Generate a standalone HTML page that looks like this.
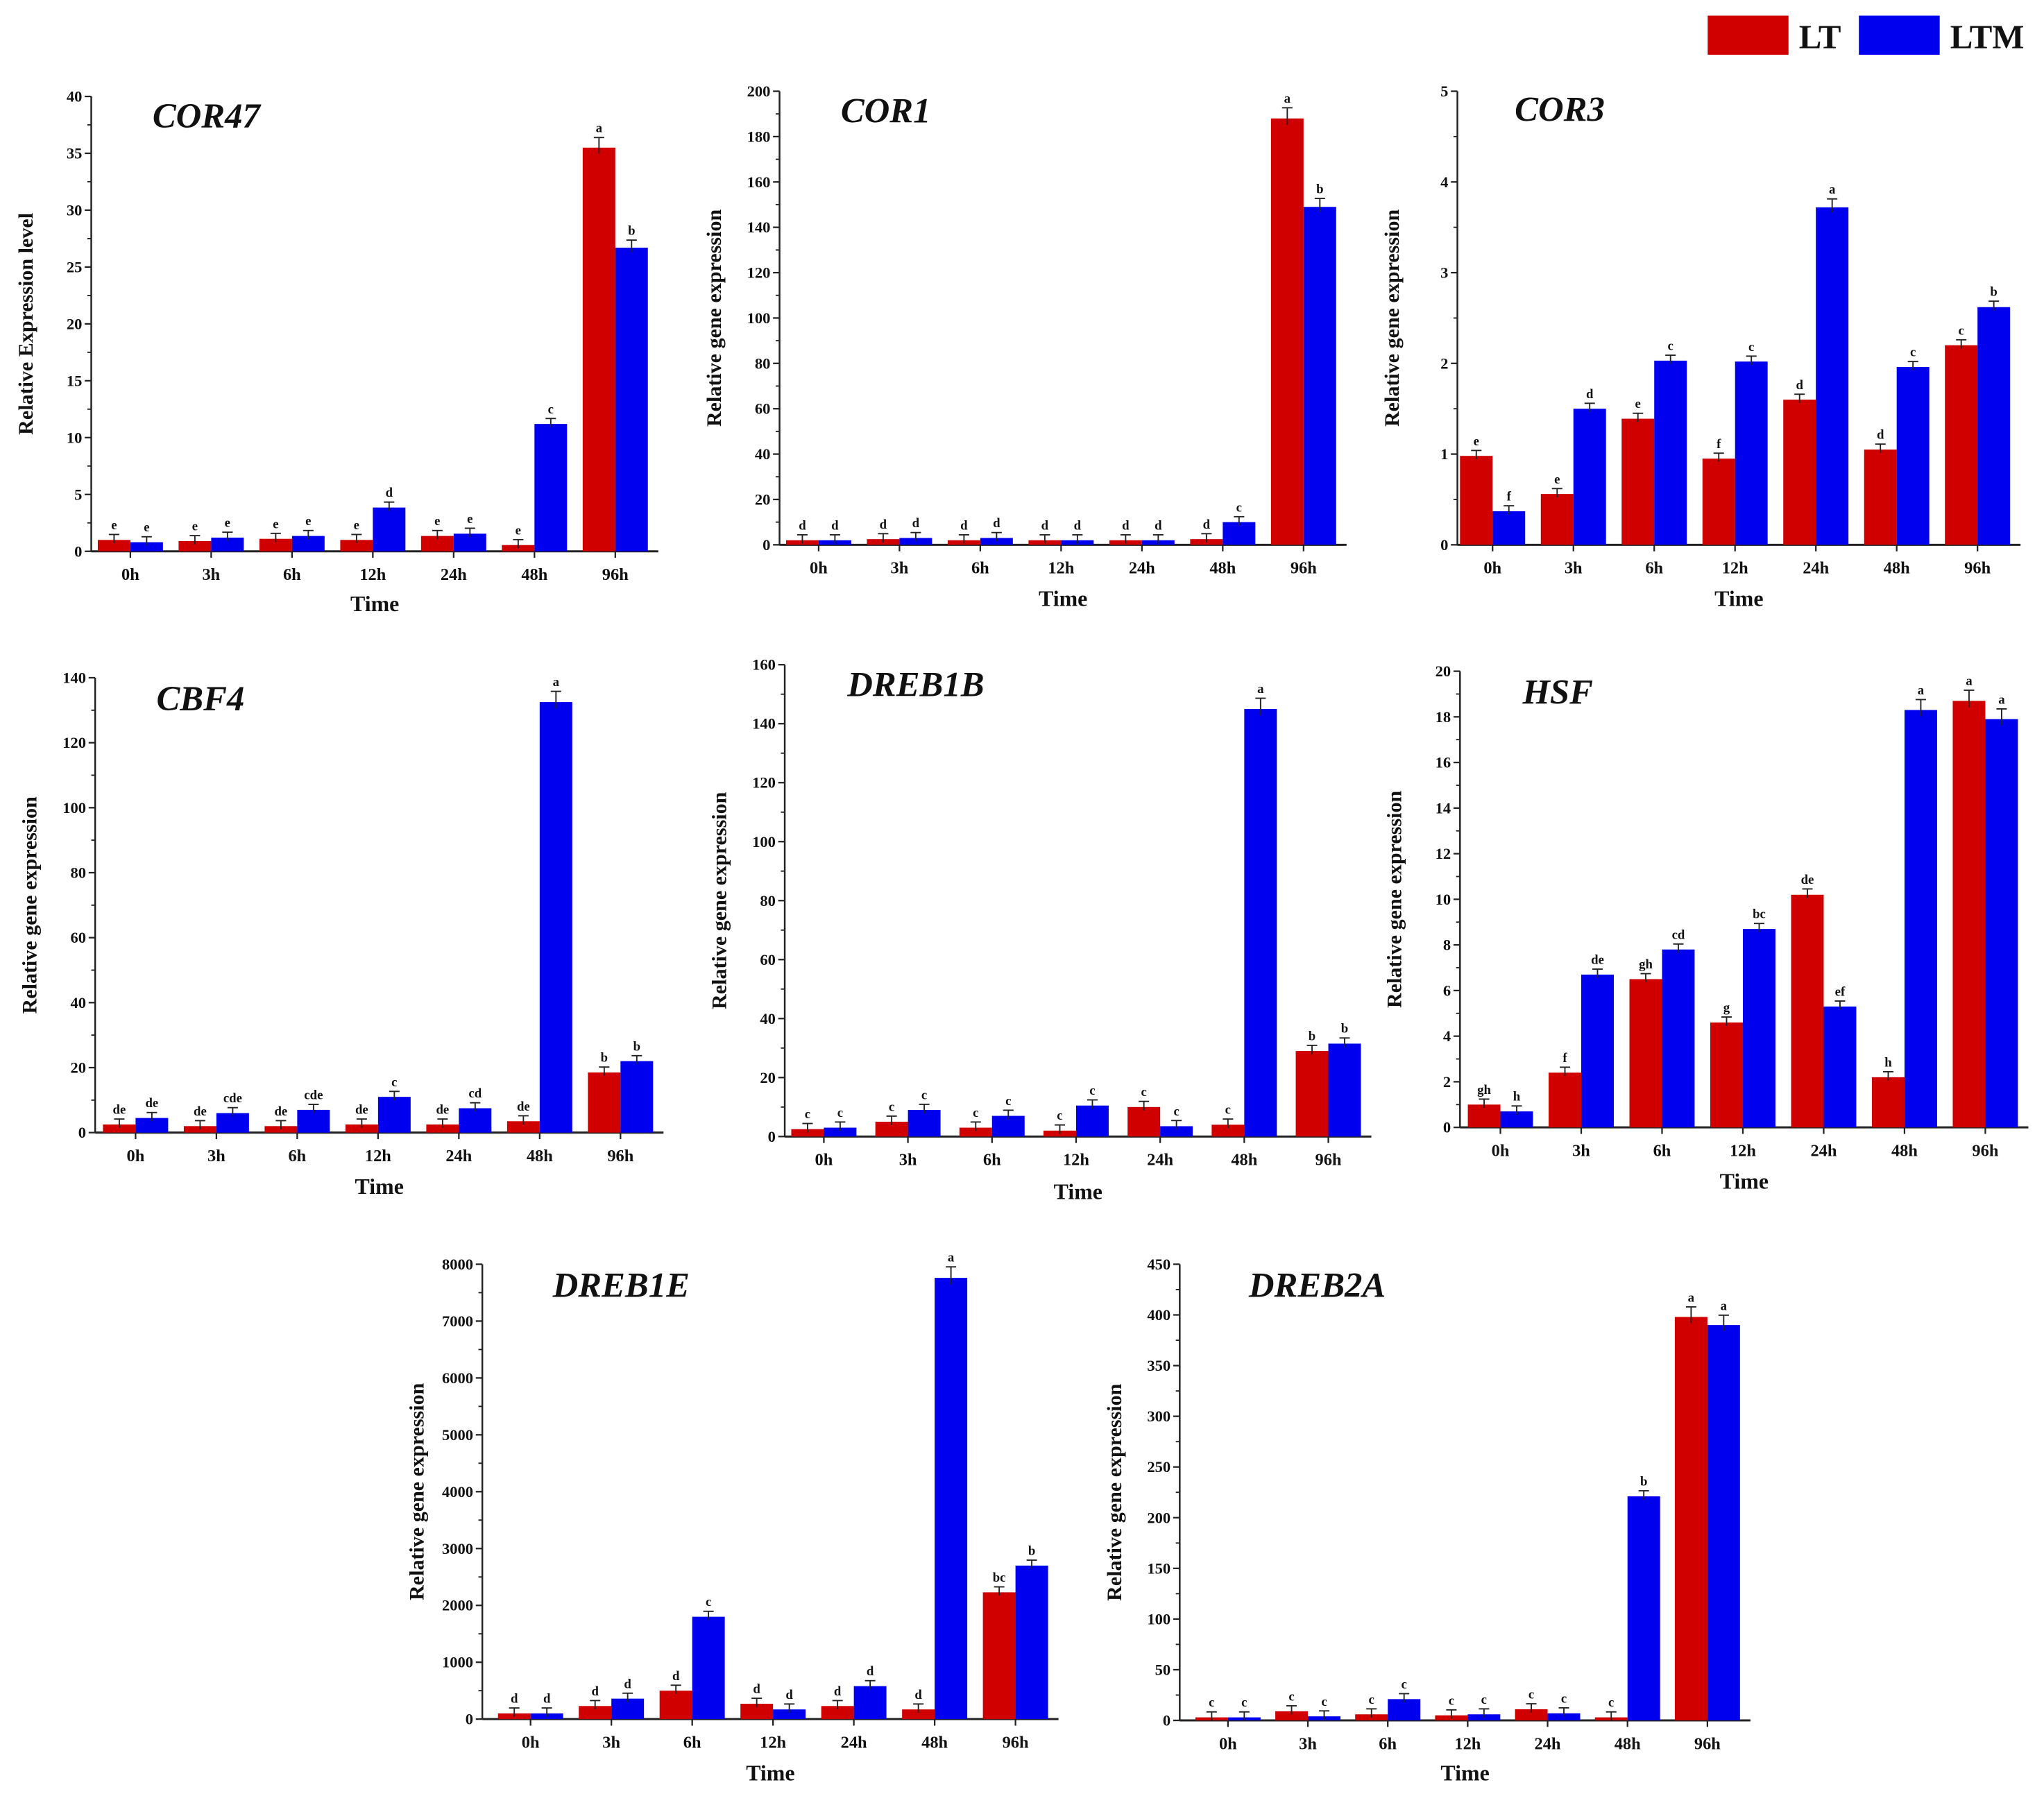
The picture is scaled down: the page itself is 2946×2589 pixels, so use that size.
<!DOCTYPE html>
<html><head><meta charset="utf-8"><style>
html,body{margin:0;padding:0;background:#fff;}
svg{display:block;}
text{font-family:"Liberation Serif",serif;font-weight:bold;fill:#111;}
</style></head><body>
<svg id="fig" width="2946" height="2589" viewBox="0 0 1568 1378" xmlns="http://www.w3.org/2000/svg">
<g>
<rect x="1310" y="12" width="62" height="30" fill="#d00000"/>
<text x="1380" y="37" font-size="26">LT</text>
<rect x="1426" y="12" width="62" height="30" fill="#0000ee"/>
<text x="1496" y="37" font-size="26">LTM</text>
</g>
</svg>
<script>
const categories = ["0h","3h","6h","12h","24h","48h","96h"];
const cor47LT = [1.0,0.9,1.1,1.0,1.35,0.55,35.5];
const cor47LTM = [0.8,1.2,1.35,3.85,1.55,11.2,26.7];
const cor47LetLT = ["e","e","e","e","e","e","a"];
const cor47LetLTM = ["e","e","e","d","e","c","b"];
const cor1LT = [2,2.5,2,2,2,2.5,188];
const cor1LTM = [2,3,3,2,2,10,149];
const cor1LetLT = ["d","d","d","d","d","d","a"];
const cor1LetLTM = ["d","d","d","d","d","c","b"];
const cor3LT = [0.98,0.56,1.39,0.95,1.6,1.05,2.2];
const cor3LTM = [0.37,1.5,2.03,2.02,3.72,1.96,2.62];
const cor3LetLT = ["e","e","e","f","d","d","c"];
const cor3LetLTM = ["f","d","c","c","a","c","b"];
const cbf4LT = [2.5,2,2,2.5,2.5,3.5,18.5];
const cbf4LTM = [4.5,6,7,11,7.5,132.5,22];
const cbf4LetLT = ["de","de","de","de","de","de","b"];
const cbf4LetLTM = ["de","cde","cde","c","cd","a","b"];
const dreb1bLT = [2.5,5,3,2,10,4,29];
const dreb1bLTM = [3,9,7,10.5,3.5,145,31.5];
const dreb1bLetLT = ["c","c","c","c","c","c","b"];
const dreb1bLetLTM = ["c","c","c","c","c","a","b"];
const hsfLT = [1.0,2.4,6.5,4.6,10.2,2.2,18.7];
const hsfLTM = [0.7,6.7,7.8,8.7,5.3,18.3,17.9];
const hsfLetLT = ["gh","f","gh","g","de","h","a"];
const hsfLetLTM = ["h","de","cd","bc","ef","a","a"];
const dreb1eLT = [100,230,500,270,230,170,2230];
const dreb1eLTM = [100,360,1800,170,580,7760,2700];
const dreb1eLetLT = ["d","d","d","d","d","d","bc"];
const dreb1eLetLTM = ["d","d","c","d","d","a","b"];
const dreb2aLT = [3,9,6,5,11,3,398];
const dreb2aLTM = [3,4,21,6,7,221,390];
const dreb2aLetLT = ["c","c","c","c","c","c","a"];
const dreb2aLetLTM = ["c","c","c","c","c","b","a"];

const panels = [
 {id:"cor47",title:"COR47",ylab:"Relative Expression level",ax:70,top:74,bot:423,c0:100,sp:62,max:40,step:5,lt:cor47LT,ltm:cor47LTM,llt:cor47LetLT,lltm:cor47LetLTM,tx:117,ty:98,timeY:469},
 {id:"cor1",title:"COR1",ylab:"Relative gene expression",ax:598,top:70,bot:418,c0:628,sp:62,max:200,step:20,lt:cor1LT,ltm:cor1LTM,llt:cor1LetLT,lltm:cor1LetLTM,tx:645,ty:94,timeY:465},
 {id:"cor3",title:"COR3",ylab:"Relative gene expression",ax:1118,top:70,bot:418,c0:1145,sp:62,max:5,step:1,lt:cor3LT,ltm:cor3LTM,llt:cor3LetLT,lltm:cor3LetLTM,tx:1162,ty:93,timeY:465},
 {id:"cbf4",title:"CBF4",ylab:"Relative gene expression",ax:73,top:520,bot:869,c0:104,sp:62,max:140,step:20,lt:cbf4LT,ltm:cbf4LTM,llt:cbf4LetLT,lltm:cbf4LetLTM,tx:120,ty:545,timeY:916},
 {id:"dreb1b",title:"DREB1B",ylab:"Relative gene expression",ax:602,top:510,bot:872,c0:632,sp:64.5,max:160,step:20,lt:dreb1bLT,ltm:dreb1bLTM,llt:dreb1bLetLT,lltm:dreb1bLetLTM,tx:650,ty:534,timeY:920},
 {id:"hsf",title:"HSF",ylab:"Relative gene expression",ax:1120,top:515,bot:865,c0:1151,sp:62,max:20,step:2,lt:hsfLT,ltm:hsfLTM,llt:hsfLetLT,lltm:hsfLetLTM,tx:1168,ty:540,timeY:912},
 {id:"dreb1e",title:"DREB1E",ylab:"Relative gene expression",ax:370,top:970,bot:1319,c0:407,sp:62,max:8000,step:1000,lt:dreb1eLT,ltm:dreb1eLTM,llt:dreb1eLetLT,lltm:dreb1eLetLTM,tx:424,ty:995,timeY:1366},
 {id:"dreb2a",title:"DREB2A",ylab:"Relative gene expression",ax:905,top:970,bot:1320,c0:942,sp:61.3,max:450,step:50,lt:dreb2aLT,ltm:dreb2aLTM,llt:dreb2aLetLT,lltm:dreb2aLetLTM,tx:958,ty:995,timeY:1366}
];
const NS="http://www.w3.org/2000/svg";
const svg=document.getElementById("fig");
function mk(tag,attrs,parent){const e=document.createElementNS(NS,tag);for(const k in attrs)e.setAttribute(k,attrs[k]);parent.appendChild(e);return e;}
panels.forEach(p=>{
 const g=mk("g",{},svg);
 
 
 const y=v=>p.bot-(v/p.max)*(p.bot-p.top);
 const xc=i=>p.c0+i*p.sp;
 const bw=25;
 const xEnd=xc(6)+bw+8;
 const ya=mk("line",{x1:p.ax,y1:p.top,x2:p.ax,y2:p.bot,stroke:"#222","stroke-width":1.3},g);
 
 
 const xa=mk("line",{x1:p.ax,y1:p.bot,x2:xEnd,y2:p.bot,stroke:"#222","stroke-width":1.6},g);
 
 
 for(let v=0;v<=p.max+1e-9;v+=p.step){
  mk("line",{x1:p.ax-5,y1:y(v),x2:p.ax,y2:y(v),stroke:"#222","stroke-width":1.2},g);
  if(v+p.step/2<=p.max) mk("line",{x1:p.ax-3,y1:y(v+p.step/2),x2:p.ax,y2:y(v+p.step/2),stroke:"#222","stroke-width":1},g);
  const t=mk("text",{x:p.ax-7,y:y(v)+4,"font-size":12,"text-anchor":"end","font-weight":"normal"},g);
  
  
  t.textContent=String(Math.round(v*100)/100);
 }
 categories.forEach((c,i)=>{
  mk("line",{x1:xc(i),y1:p.bot,x2:xc(i),y2:p.bot+5,stroke:"#222","stroke-width":1.2},g);
  const t=mk("text",{x:xc(i),y:p.bot+22,"font-size":13,"text-anchor":"middle"},g);
  
  
  t.textContent=c;
  [[p.lt,p.llt,xc(i)-bw,"#d00000","lt"],[p.ltm,p.lltm,xc(i),"#0000ee","ltm"]].forEach(([vals,lets,x0,col,nm])=>{
   const v=vals[i];
   const r=mk("rect",{x:x0,y:y(v),width:bw,height:p.bot-y(v),fill:col},g);
   
   
   const err=Math.max(0.012*p.max,0.025*v);
   const ytop=y(v+err), ylo=y(Math.max(0,v-err*0.6));
   mk("line",{x1:x0+bw/2,y1:ytop,x2:x0+bw/2,y2:ylo,stroke:"#222","stroke-width":1},g);
   mk("line",{x1:x0+bw/2-4,y1:ytop,x2:x0+bw/2+4,y2:ytop,stroke:"#222","stroke-width":1},g);
   const l=mk("text",{x:x0+bw/2,y:ytop-4,"font-size":10,"text-anchor":"middle"},g);
   
   
   l.textContent=lets[i];
  });
 });
 const ti=mk("text",{x:p.tx,y:p.ty,"font-size":27,"font-style":"italic"},g);
 
 
 ti.textContent=p.title;
 const yl=mk("text",{x:0,y:0,"font-size":16,"text-anchor":"middle",transform:`translate(${p.ax-45},${(p.top+p.bot)/2}) rotate(-90)`},g);
 
 
 yl.textContent=p.ylab;
 const xl=mk("text",{x:(p.ax+xEnd)/2,y:p.timeY,"font-size":17,"text-anchor":"middle"},g);
 
 
 xl.textContent="Time";
});
</script>
</body></html>
